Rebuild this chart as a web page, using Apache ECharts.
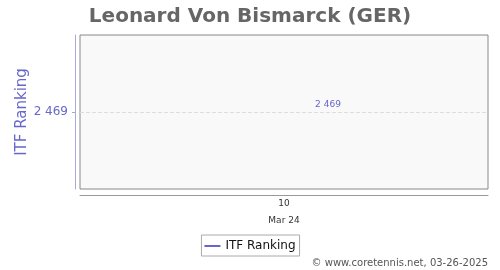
<!DOCTYPE html>
<html><head><meta charset="utf-8">
<script src="https://cdn.jsdelivr.net/npm/echarts@6/dist/echarts.min.js"></script>
<style>html,body{margin:0;padding:0;background:#fff}#c{width:500px;height:270px}</style>
</head><body><div id="c"></div>
<script>
var titleText = 'Leonard Von Bismarck (GER)';
var categories = ['10'];
var monthLabels = ['Mar 24'];
var seriesName = 'ITF Ranking';
var rankings = [2469];
var yTicks = [2469];
var credit = '\u00a9 www.coretennis.net, 03-26-2025';

function fmt(v){ return String(v).replace(/\B(?=(\d{3})+(?!\d))/g, ' '); }

var chart = echarts.init(document.getElementById('c'), null, {renderer:'canvas'});
chart.setOption({
  animation:false,
  title:{text:titleText,left:'center',top:2,textStyle:{fontFamily:'DejaVu Sans',fontSize:20,fontWeight:'bold',color:'#666'}},
  grid:{left:80,right:12,top:35,bottom:81,show:true,backgroundColor:'#f9f9f9',borderColor:'#888',borderWidth:1},
  xAxis:{type:'category',data:categories,boundaryGap:true,offset:6,
    axisLine:{lineStyle:{color:'#999'}},axisTick:{show:false},
    axisLabel:{color:'#333',fontFamily:'DejaVu Sans',fontSize:9,lineHeight:17,margin:0,
      formatter:function(v,i){return v+'\n'+monthLabels[i];}}},
  yAxis:{type:'value',min:yTicks[0]-1,max:yTicks[0]+1,interval:1,offset:5,
    name:seriesName,nameLocation:'middle',nameGap:45,nameMoveOverlap:false,
    nameTextStyle:{color:'#6666cc',fontFamily:'DejaVu Sans',fontSize:15},
    axisLine:{show:true,lineStyle:{color:'#aaaadd'}},
    axisTick:{show:true,length:3,customValues:yTicks,lineStyle:{color:'#aaa'}},
    axisLabel:{customValues:yTicks,color:'#6666cc',fontFamily:'DejaVu Sans',fontSize:12,margin:7,formatter:fmt},
    splitLine:{show:true,lineStyle:{color:'#ddd',type:'dashed'}}},
  legend:{data:[seriesName],bottom:14,left:'center',itemWidth:16,itemHeight:2,itemGap:4,
    borderColor:'#aaa',borderWidth:1,borderRadius:0,padding:[5,4,4,3],
    textStyle:{color:'#111',fontFamily:'DejaVu Sans',fontSize:12},icon:'rect'},
  graphic:[{type:'text',right:12,bottom:2,style:{text:credit,fill:'#555',font:'10px DejaVu Sans'}}],
  series:[{name:seriesName,type:'line',data:rankings,showSymbol:true,symbolSize:0,
    color:'#6666cc',lineStyle:{color:'#6666cc',width:1},
    label:{show:true,position:'top',offset:[44,2],color:'#6666cc',fontFamily:'DejaVu Sans',fontSize:9,formatter:function(p){return fmt(p.value);}}}]
});
</script></body></html>
